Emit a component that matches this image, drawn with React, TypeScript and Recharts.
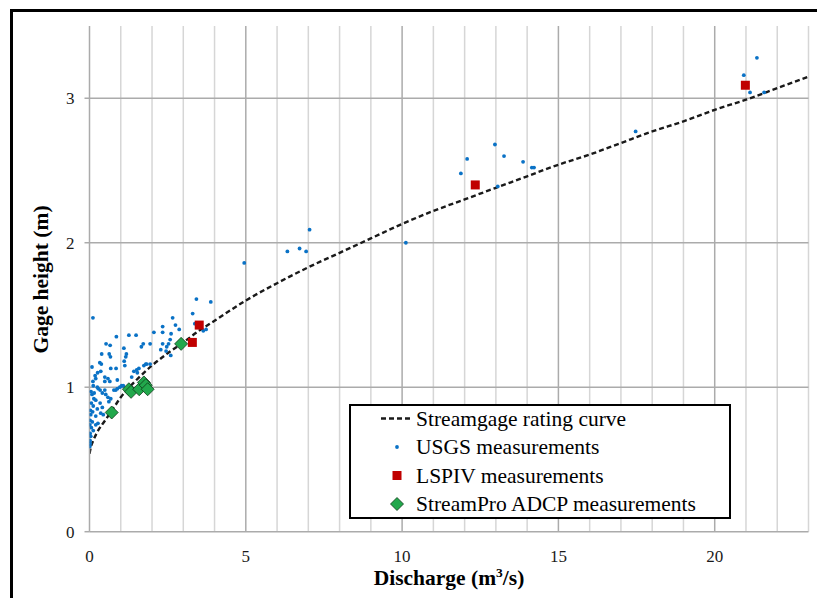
import React from "react";
import { ComposedChart, XAxis, YAxis, Line, Scatter, ReferenceLine } from "recharts";

// Rating curve (discharge m3/s -> gage height m)
const curveQ = [0, 0.05, 0.1, 0.25, 0.5, 0.75, 1, 1.5, 2, 2.5, 3, 3.5, 4, 5, 6, 7, 8, 9, 10, 11, 12, 13, 14, 15, 16, 17, 18, 19, 20, 21, 22, 23];
const curveH = [0.54, 0.59, 0.62, 0.69, 0.77, 0.85, 0.93, 1.05, 1.15, 1.235, 1.31, 1.39, 1.46, 1.6, 1.72, 1.83, 1.93, 2.03, 2.13, 2.22, 2.3, 2.38, 2.46, 2.54, 2.61, 2.69, 2.77, 2.84, 2.92, 2.99, 3.07, 3.15];

// USGS measurements [discharge, gage height]
const usgsPoints: number[][] = [
  [11.88, 2.48], [12.08, 2.58], [12.97, 2.68], [13.26, 2.6], [13.87, 2.56], [14.15, 2.52], [14.22, 2.52], [13.06, 2.39],
  [10.12, 2.0], [17.47, 2.77], [20.93, 3.16], [21.35, 3.28], [21.13, 3.04], [21.58, 3.04],
  [3.42, 1.61], [4.95, 1.86], [6.33, 1.94], [6.72, 1.96], [6.93, 1.94], [7.04, 2.09],
  [3.88, 1.59], [3.3, 1.51], [3.37, 1.44], [3.64, 1.39], [3.73, 1.4], [2.66, 1.48], [2.75, 1.43], [2.87, 1.4],
  [2.34, 1.42], [2.34, 1.38], [2.61, 1.37], [2.06, 1.38], [2.58, 1.33], [2.53, 1.3], [2.47, 1.28], [2.34, 1.3],
  [2.28, 1.26], [2.45, 1.25], [2.6, 1.22], [1.72, 1.3], [1.94, 1.3], [1.66, 1.28], [1.8, 1.16], [1.94, 1.16],
  [0.11, 1.48], [0.86, 1.35], [1.26, 1.36], [1.49, 1.36], [0.53, 1.3], [0.66, 1.29], [1.1, 1.27],
  [0.39, 1.23], [0.63, 1.23], [0.67, 1.21], [1.18, 1.23], [1.16, 1.21], [0.33, 1.17], [0.38, 1.16], [0.08, 1.14],
  [1.11, 1.18], [1.13, 1.15], [0.68, 1.13], [0.26, 1.1], [0.36, 1.11], [0.85, 1.13], [1.51, 1.12], [1.58, 1.13],
  [1.74, 1.15], [1.83, 1.16], [0.49, 1.07], [0.59, 1.06], [0.49, 1.04], [0.65, 1.04], [0.18, 1.08], [0.2, 1.06],
  [0.11, 1.04], [0.12, 1.01], [0.25, 1.0], [0.89, 1.05], [1.35, 1.07], [1.53, 1.1], [1.42, 1.11],
  [0.28, 0.99], [0.34, 0.98], [0.41, 0.96], [0.49, 0.98], [0.78, 0.98], [0.84, 0.98], [0.89, 0.99], [0.97, 1.0],
  [1.03, 1.01], [1.08, 1.01], [0.52, 0.95], [0.59, 0.93], [0.68, 0.92], [0.62, 0.9], [0.14, 0.92], [0.2, 0.91],
  [0.06, 0.89], [0.12, 0.87], [0.25, 0.85], [0.34, 0.89], [0.41, 0.86], [0.36, 0.82], [0.44, 0.81], [0.2, 0.8],
  [0.04, 0.81], [0.02, 0.77], [0.09, 0.76], [0.01, 0.74], [0.06, 0.72], [0.12, 0.7], [0.2, 0.74], [0.27, 0.75],
  [0.02, 0.68], [0.04, 0.66], [0.02, 0.63], [0.02, 0.61], [0.01, 0.59], [0.05, 0.97], [0.08, 0.95], [0.15, 0.96],
  [0.03, 0.84], [0.1, 0.83],
];

// LSPIV measurements
const lspivQ = [3.29, 3.51, 12.34, 20.98];
const lspivH = [1.31, 1.43, 2.4, 3.09];

// StreamPro ADCP measurements
const adcpQ = [0.71, 1.26, 1.33, 1.59, 1.74, 1.8, 1.86, 2.93];
const adcpH = [0.825, 0.986, 0.968, 0.986, 1.033, 1.014, 0.986, 1.3];

const xTicks = [0, 5, 10, 15, 20];
const yTicks = [0, 1, 2, 3];
const minorX = [1, 2, 3, 4, 6, 7, 8, 9, 11, 12, 13, 14, 16, 17, 18, 19, 21, 22, 23];
const majorX = [5, 10, 15, 20];
const majorY = [1, 2, 3];

const legendLabels = [
  "Streamgage rating curve",
  "USGS measurements",
  "LSPIV measurements",
  "StreamPro ADCP measurements",
];

const curveData = curveQ.map((x, i) => ({ x, y: curveH[i] }));
const usgsData = usgsPoints.map(([x, y]) => ({ x, y }));
const lspivData = lspivQ.map((x, i) => ({ x, y: lspivH[i] }));
const adcpData = adcpQ.map((x, i) => ({ x, y: adcpH[i] }));

const BLUE = "#0A72C6";
const RED = "#C00000";
const GREEN = "#22A84C";
const SERIF = '"Liberation Serif", "Times New Roman", serif';

const Dot = (p: any) => <circle cx={p.cx} cy={p.cy} r={1.9} fill={BLUE} />;
const Square = (p: any) => <rect x={p.cx - 4.5} y={p.cy - 4.5} width={9} height={9} fill={RED} />;
const Diamond = (p: any) => (
  <polygon
    points={`${p.cx},${p.cy - 6.5} ${p.cx + 6.5},${p.cy} ${p.cx},${p.cy + 6.5} ${p.cx - 6.5},${p.cy}`}
    fill={GREEN}
    stroke="#0E3A18"
    strokeWidth={0.8}
  />
);

export default function App() {
  const lx = 349, ly = 404;
  const rows = [14.5, 43, 71.5, 100];
  return (
    <div style={{ position: "absolute", left: 0, top: 0, width: 817, height: 598, overflow: "hidden", background: "#fff" }}>
      <div style={{ position: "absolute", left: 10, top: 9, width: 900, height: 700, borderTop: "3px solid #000", borderLeft: "3px solid #000" }} />
      <div style={{ position: "absolute", left: 0, top: 0 }}>
        <ComposedChart width={817} height={598} margin={{ top: 26, right: 8.5, bottom: 36.3, left: 29.5 }}>
          {minorX.map((v) => (
            <ReferenceLine key={"mx" + v} x={v} stroke="#D6D6D6" strokeWidth={1.5} />
          ))}
          {majorX.map((v) => (
            <ReferenceLine key={"MX" + v} x={v} stroke="#ABABAB" strokeWidth={1.5} />
          ))}
          {majorY.map((v) => (
            <ReferenceLine key={"MY" + v} y={v} stroke="#ABABAB" strokeWidth={1.5} />
          ))}
          <XAxis
            dataKey="x"
            type="number"
            domain={[0, 23]}
            ticks={xTicks}
            height={30}
            allowDataOverflow
            axisLine={{ stroke: "#ABABAB", strokeWidth: 1.5 }}
            tickLine={false}
            tickMargin={12}
            tick={{ fontFamily: SERIF, fontSize: 17, fill: "#1a1a1a" }}
          />
          <YAxis
            dataKey="y"
            type="number"
            domain={[0, 3.5]}
            ticks={yTicks}
            width={60}
            allowDataOverflow
            axisLine={{ stroke: "#ABABAB", strokeWidth: 1.5 }}
            tickLine={{ stroke: "#ABABAB", strokeWidth: 1.5 }}
            tickSize={5}
            tickMargin={10}
            tick={{ fontFamily: SERIF, fontSize: 17, fill: "#1a1a1a" }}
          />
          <Scatter data={usgsData} dataKey="y" shape={Dot} isAnimationActive={false} />
          <Line
            data={curveData}
            dataKey="y"
            type="monotone"
            stroke="#1a1a1a"
            strokeWidth={2.4}
            strokeDasharray="5 3"
            dot={false}
            activeDot={false}
            isAnimationActive={false}
          />
          <Scatter data={lspivData} dataKey="y" shape={Square} isAnimationActive={false} />
          <Scatter data={adcpData} dataKey="y" shape={Diamond} isAnimationActive={false} />
        </ComposedChart>
      </div>
      <svg width={817} height={598} style={{ position: "absolute", left: 0, top: 0, pointerEvents: "none" }}>
        <text
          transform="translate(41,279.5) rotate(-90)"
          textAnchor="middle"
          dominantBaseline="central"
          fontFamily={SERIF}
          fontWeight="bold"
          fontSize={21.5}
          fill="#000"
        >
          Gage height (m)
        </text>
        <text x={449} y={585} textAnchor="middle" fontFamily={SERIF} fontWeight="bold" fontSize={21.5} fill="#000">
          Discharge (m<tspan dy={-8} fontSize={13.5}>3</tspan>
          <tspan dy={8}>/s)</tspan>
        </text>
        <g transform={`translate(${lx},${ly})`}>
          <rect x={1} y={1} width={380} height={113} fill="#fff" stroke="#000" strokeWidth={2} />
          <line x1={32} x2={64} y1={rows[0]} y2={rows[0]} stroke="#1a1a1a" strokeWidth={2.4} strokeDasharray="5 3" />
          <circle cx={48} cy={rows[1]} r={1.9} fill={BLUE} />
          <rect x={43.5} y={rows[2] - 4.5} width={9} height={9} fill={RED} />
          <polygon
            points={`48,${rows[3] - 6.5} 54.5,${rows[3]} 48,${rows[3] + 6.5} 41.5,${rows[3]}`}
            fill={GREEN}
            stroke="#0E3A18"
            strokeWidth={0.8}
          />
          {legendLabels.map((t, i) => (
            <text key={t} x={67} y={rows[i]} dominantBaseline="central" fontFamily={SERIF} fontSize={21.5} fill="#000">
              {t}
            </text>
          ))}
        </g>
      </svg>
    </div>
  );
}
